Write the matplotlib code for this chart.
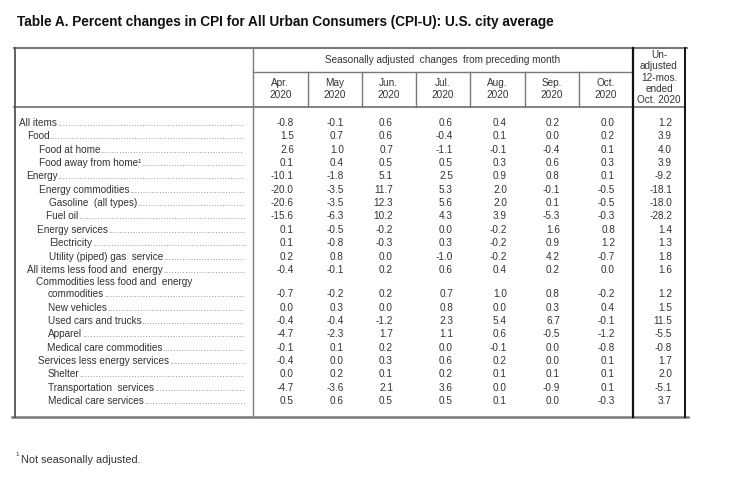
import matplotlib
matplotlib.use("Agg")
import matplotlib.pyplot as plt

# ---- data ----
labels = [
    "All items", "Food", "Food at home", "Food away from home\u00b9",
    "Energy", "Energy commodities", "Gasoline  (all types)", "Fuel oil",
    "Energy services", "Electricity", "Utility (piped) gas  service",
    "All items less food and  energy",
    "Commodities less food and  energy\ncommodities",
    "New vehicles", "Used cars and trucks", "Apparel",
    "Medical care commodities", "Services less energy services",
    "Shelter", "Transportation  services", "Medical care services",
]
# left x of each label (indent)
indent = [19, 27, 39, 39, 26, 39, 49, 46, 37, 49, 49, 27, 36,
          48, 48, 48, 47, 38, 48, 48, 48]

months = ["Apr.\n2020", "May\n2020", "Jun.\n2020", "Jul.\n2020",
          "Aug.\n2020", "Sep.\n2020", "Oct.\n2020"]
apr = [-0.8, 1.5, 2.6, 0.1, -10.1, -20.0, -20.6, -15.6, 0.1, 0.1, 0.2,
       -0.4, -0.7, 0.0, -0.4, -4.7, -0.1, -0.4, 0.0, -4.7, 0.5]
may = [-0.1, 0.7, 1.0, 0.4, -1.8, -3.5, -3.5, -6.3, -0.5, -0.8, 0.8,
       -0.1, -0.2, 0.3, -0.4, -2.3, 0.1, 0.0, 0.2, -3.6, 0.6]
jun = [0.6, 0.6, 0.7, 0.5, 5.1, 11.7, 12.3, 10.2, -0.2, -0.3, 0.0,
       0.2, 0.2, 0.0, -1.2, 1.7, 0.2, 0.3, 0.1, 2.1, 0.5]
jul = [0.6, -0.4, -1.1, 0.5, 2.5, 5.3, 5.6, 4.3, 0.0, 0.3, -1.0,
       0.6, 0.7, 0.8, 2.3, 1.1, 0.0, 0.6, 0.2, 3.6, 0.5]
aug = [0.4, 0.1, -0.1, 0.3, 0.9, 2.0, 2.0, 3.9, -0.2, -0.2, -0.2,
       0.4, 1.0, 0.0, 5.4, 0.6, -0.1, 0.2, 0.1, 0.0, 0.1]
sep = [0.2, 0.0, -0.4, 0.6, 0.8, -0.1, 0.1, -5.3, 1.6, 0.9, 4.2,
       0.2, 0.8, 0.3, 6.7, -0.5, 0.0, 0.0, 0.1, -0.9, 0.0]
oct_ = [0.0, 0.2, 0.1, 0.3, 0.1, -0.5, -0.5, -0.3, 0.8, 1.2, -0.7,
        0.0, -0.2, 0.4, -0.1, -1.2, -0.8, 0.1, 0.1, 0.1, -0.3]
unadj = [1.2, 3.9, 4.0, 3.9, -9.2, -18.1, -18.0, -28.2, 1.4, 1.3, 1.8,
         1.6, 1.2, 1.5, 11.5, -5.5, -0.8, 1.7, 2.0, -5.1, 3.7]

columns = [apr, may, jun, jul, aug, sep, oct_, unadj]

# ---- layout (pixel coords) ----
W, H = 733, 501
col_edges = [253, 307.5, 361.5, 415.5, 470, 525, 579, 633, 685]
val_right = [294, 344, 393, 453, 507, 560, 615, 672]
txt = "#333333"
fnt = ["Liberation Sans", "DejaVu Sans"]
fs = 7.2

fig = plt.figure(figsize=(W / 100, H / 100), dpi=100)
ax = fig.add_axes([0, 0, 1, 1])
ax.set_xlim(0, W)
ax.set_ylim(H, 0)
ax.axis("off")
renderer = fig.canvas.get_renderer()

ax.text(17, 22, "Table A. Percent changes in CPI for All Urban Consumers (CPI-U): U.S. city average",
        fontsize=9.8, fontweight="bold", color="#111111", va="center",
        family=["Liberation Sans Narrow", "Liberation Sans"])

# borders
top, hdr_mid, hdr_bot, bot = 47.5, 72, 107, 416.5
gray = "#7a7a7a"
ax.plot([14, 687], [top, top], color=gray, lw=1.5)
ax.plot([12, 688], [bot, bot], color=gray, lw=1.8)
ax.plot([14, 685], [hdr_bot, hdr_bot], color=gray, lw=1.3)
ax.plot([15, 15], [top, bot], color="#555555", lw=1.3)
ax.plot([253, 253], [top, bot], color=gray, lw=1.0)
ax.plot([253, 633], [hdr_mid, hdr_mid], color=gray, lw=1.0)
for x in col_edges[1:7]:
    ax.plot([x, x], [hdr_mid, hdr_bot], color=gray, lw=1.0)
ax.plot([633, 633], [top, bot], color="#111111", lw=1.6)
ax.plot([685, 685], [top, bot], color="#111111", lw=1.4)

# header text
ax.text((253 + 633) / 2, 59.5, "Seasonally adjusted  changes  from preceding month",
        ha="center", va="center", fontsize=fs, color=txt, family=fnt)
for i, m in enumerate(months):
    ax.text((col_edges[i] + col_edges[i + 1]) / 2, 89, m, ha="center",
            va="center", fontsize=fs, color=txt, family=fnt, linespacing=1.15)
ax.text(659, 77.5, "Un-\nadjusted\n12-mos.\nended\nOct. 2020", ha="center",
        va="center", fontsize=fs, color=txt, family=fnt, linespacing=1.17)


def leader(x, y, s):
    # label followed by dot leaders up to the data column
    t = ax.text(x, y, s, fontsize=fs, color=txt, family=fnt, va="center_baseline")
    x1 = t.get_window_extent(renderer).x1
    d = ax.text(0, 0, ".", fontsize=fs, family=fnt)
    dw = d.get_window_extent(renderer).width
    d.remove()
    n = int((246 - x1) / dw)
    if n > 0:
        ax.text(x1, y, "." * n, fontsize=fs, color="#777777", family=fnt,
                va="center_baseline")


# rows
step = 13.35
y = 122
for i, lab in enumerate(labels):
    if "\n" in lab:
        first, second = lab.split("\n")
        y += step
        ax.text(indent[i], y - 1, first, fontsize=fs, color=txt, family=fnt,
                va="center_baseline")
        y += 11
        leader(48, y, second)
    else:
        if i > 0:
            y += step
        leader(indent[i], y, lab)
    for c, vals in enumerate(columns):
        ax.text(val_right[c], y, f"{vals[i]:.1f}", ha="right",
                va="center_baseline", fontsize=fs, color=txt, family=fnt)

# footnote
ax.text(15, 455, "1", fontsize=4.5, color=txt, family=fnt, va="center")
ax.text(21, 460, "Not seasonally adjusted.", fontsize=7.8, color=txt,
        family=fnt, va="center")

fig.savefig("out.png", dpi=100)
